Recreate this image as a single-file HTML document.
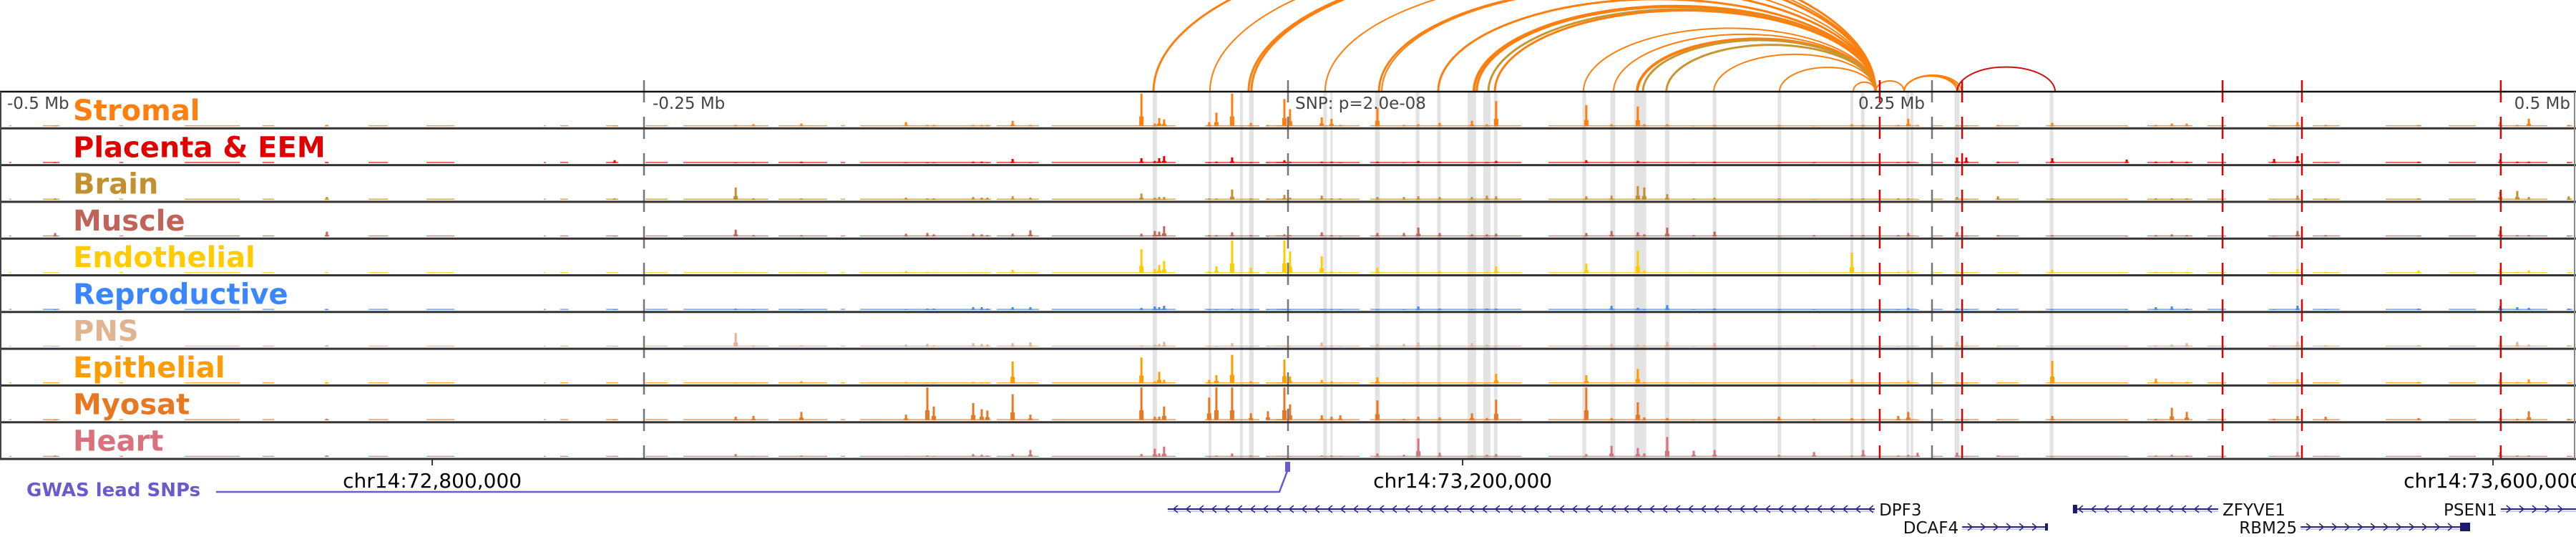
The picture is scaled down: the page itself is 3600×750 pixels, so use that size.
<!DOCTYPE html>
<html><head><meta charset="utf-8">
<style>
html,body{margin:0;padding:0;background:#fff;}
svg{display:block;font-family:"DejaVu Sans","Liberation Sans",sans-serif;}
</style></head>
<body>
<svg id="fig" width="3600" height="750" viewBox="0 0 3600 750" xmlns="http://www.w3.org/2000/svg">
<g id="hl"></g>
<g id="arcs"></g>
<g id="tracks"></g>
<g id="vlines"></g>
<g id="frame"></g>
<g id="labels"></g>
<g id="bottom"></g>
</svg>
<script>
// ---- data (genomic offsets in kb relative to lead SNP) ----
const trackNames = ["Stromal","Placenta & EEM","Brain","Muscle","Endothelial","Reproductive","PNS","Epithelial","Myosat","Heart"];
const trackColors = ["#ff7f0e","#e00000","#c39030","#c0645a","#ffcc00","#3a86ff","#dfb48f","#ff9c00","#e87722","#d8707e"];
const peakPos = [-478.6,-373.1,-261.4,-214.4,-207.5,-188.9,-148.3,-140.0,-137.5,-122.2,-118.9,-116.7,-106.9,-100.0,-56.9,-51.7,-50.0,-48.1,-30.6,-27.8,-21.7,-14.4,-7.8,-1.4,0.8,13.1,16.9,20.3,34.7,45.0,50.6,58.9,71.4,77.2,80.8,115.8,125.6,135.8,138.3,147.2,157.5,165.6,190.6,204.2,218.9,223.3,236.9,240.8,244.4,259.7,263.3,275.6,296.7,325.6,336.9,343.1,348.9,382.8,391.9,402.8,438.9,470.6,477.2,481.7,497.2];
const stromal =  [1,2,1,2,3,4,6,2,2,2,2,2,8,2,48,4,12,10,6,20,48,5,2,40,25,13,11,2,27,2,3,5,8,3,37,31,3,29,3,3,1,2,2,1,3,2,2,11,2,2,1,2,5,1,2,4,4,1,6,2,2,6,2,11,2];
const placenta = [1,1,4,1,1,2,1,1,1,2,2,1,6,1,7,3,7,10,1,2,8,1,1,4,2,2,2,1,2,1,3,2,1,1,3,4,1,3,1,1,1,2,1,1,1,1,1,2,1,8,8,2,7,5,2,3,2,6,10,1,2,5,2,2,1];
const brain =    [2,4,2,18,2,2,3,2,2,4,3,3,5,3,9,3,4,4,2,2,15,2,2,7,3,6,2,2,4,4,5,4,4,6,5,5,6,20,18,8,2,3,2,1,2,2,2,2,1,4,1,5,2,1,2,2,2,1,6,2,2,12,13,4,5];
const muscle =   [5,7,1,10,2,2,4,5,3,4,3,2,4,9,4,8,7,15,2,2,6,2,1,3,2,6,2,1,5,5,13,5,3,3,4,5,8,6,3,13,2,7,1,2,2,2,2,5,1,6,1,2,2,1,2,3,2,1,8,2,1,9,2,2,1];
const endothelial=[0,1,0,2,1,1,3,2,1,1,1,1,5,1,35,6,12,18,3,10,48,8,2,48,32,25,3,2,8,1,2,3,2,2,10,14,1,33,4,2,1,2,1,1,30,2,2,4,1,3,1,1,5,1,2,2,2,1,6,2,4,6,2,4,1];
const reproductive=[1,1,1,2,1,1,1,2,2,4,4,2,4,4,3,5,4,6,1,1,2,1,1,1,1,1,1,1,1,1,5,2,1,2,2,1,6,3,1,7,1,2,1,1,1,1,1,3,1,2,1,2,1,1,4,5,2,1,6,1,2,6,4,3,2];
const pns =      [1,2,1,20,2,2,3,4,2,5,4,3,5,6,2,3,4,7,1,1,5,1,1,1,1,6,2,1,4,4,6,3,5,3,2,2,4,3,2,7,1,5,1,2,1,1,1,1,1,7,1,1,1,1,2,3,5,1,7,2,2,8,7,3,2];
const epithelial=[0,1,0,1,1,3,2,1,1,2,1,1,32,1,38,3,17,5,5,12,42,3,1,35,10,5,3,1,9,1,2,1,2,1,14,12,1,21,2,2,1,1,1,1,6,1,1,4,1,2,1,1,33,1,7,2,2,1,6,1,2,6,2,6,1];
const myosat =   [1,2,1,5,6,12,8,48,20,25,16,14,38,8,48,5,5,20,33,48,48,10,13,48,23,7,5,7,29,2,5,4,10,3,30,48,3,26,4,3,1,2,5,2,3,2,6,12,1,1,1,1,6,1,2,18,12,2,6,5,3,3,2,13,2];
const heart =    [2,2,1,4,1,2,1,2,1,4,3,2,4,10,4,12,5,15,1,2,5,2,1,1,1,2,2,1,5,3,27,6,2,3,4,4,16,13,5,29,9,10,3,7,2,10,2,3,6,6,1,2,1,1,2,3,2,1,7,1,1,7,2,2,1];
const bgStart = [-496.4,-483.3,-453.6,-428.3,-398.1,-373.9,-356.9,-334.4,-288.9,-282.5,-264.7,-249.4,-234.7,-197.8,-173.6,-166.1,-113.1,-91.7,-32.2,-8.6,-4.7,31.9,101.1,250,259.2,275.3,294.2,333.6,356.9,380.6,397.8,426.1,450.6,470.3,496.4];
const bgEnd =   [-495.6,-476.9,-452.2,-406.9,-393.6,-372.5,-349.4,-323.6,-288.1,-279.4,-260,-240.8,-201.7,-178.9,-171.9,-115.3,-96.7,-43.6,-11.1,0,27.8,90.6,243.9,254.2,268.1,283.6,325.8,351.1,364.2,392.8,408.3,440,461.1,488.9,498.6];
const highlightPos = [-51.7,-30.3,-18.1,-14.2,14.4,16.9,34.7,50.3,58.6,71.4,77.2,80.6,115,126.1,136.7,147.2,165.6,190.8,218.9,223.1,240.6,242.2,259.7,296.4,391.9];
const highlightWidth = [1.7,1.1,1.1,1.7,1.4,0.8,1.9,1.4,1.4,3.3,2.8,1.4,1.4,1.9,4.7,1.7,1.4,1.4,1.1,1.4,1.1,1.1,1.9,1.4,1.1];
const arcLeft =  [-52.2,-30.3,-15.3,-14.2,14.4,35.3,36.4,58.3,72.2,73.3,77.8,80.3,114.7,126.4,135.6,137.8,146.9,165.3,190.8,219.4,228.1,239.2,239.2,239.2,259.7];
const arcRight = [228.1,228.1,228.1,228.1,228.1,228.1,228.1,228.1,228.1,228.1,228.1,228.1,228.1,228.1,228.1,228.1,228.1,228.1,228.1,228.1,239.2,259.7,260.5,261.5,297.8];
const arcColor = ["#ff7f0e","#ff7f0e","#ff7f0e","#ff7f0e","#ff7f0e","#ff7f0e","#ff7f0e","#ff7f0e","#ff7f0e","#ff7f0e","#c8962e","#ff7f0e","#ff7f0e","#ff7f0e","#ff7f0e","#c8962e","#c8962e","#ff7f0e","#ff7f0e","#ff7f0e","#ff7f0e","#ff7f0e","#ff7f0e","#ff7f0e","#d01010"];
const arcWidth = [3,2,3,3,2,3,2,3,4,3,3,3,2,2,4,3,3,2,2,2,2,2,2,2,2];
const redLines = [229.7,261.7,362.8,393.6,470.8];
const scaleTicks = [-250,0,250];
const gwasSnp = [0];
const coordTicks = [-332.2,67.8,467.8];
const coordLabels = ["chr14:72,800,000","chr14:73,200,000","chr14:73,600,000"];
const geneNames = ["DPF3","DCAF4","ZFYVE1","RBM25","PSEN1"];
const geneStart = [-46.7,261.7,304.7,393.1,470.8];
const geneEnd =   [227.8,295.0,361.1,458.9,500];
const geneStrand = [-1,1,-1,1,1];
const geneRow = [0,1,0,1,0];
</script>
<script>
const NS="http://www.w3.org/2000/svg";
const X = kb => 1800 + kb*3.6;
const TOP=128, TH=51.3, NT=10;
const trackTop = i => TOP + i*TH;
const base = i => trackTop(i) + TH - 3;
const Y = v => v*0.95;
function mk(tag, attrs, parent){const e=document.createElementNS(NS,tag);for(const k in attrs)e.setAttribute(k,attrs[k]);parent.appendChild(e);return e;}
const hl=document.getElementById('hl'), arcs=document.getElementById('arcs'), tracks=document.getElementById('tracks'),
 vlines=document.getElementById('vlines'), frame=document.getElementById('frame'), labels=document.getElementById('labels'), bottom=document.getElementById('bottom');
const series=[stromal,placenta,brain,muscle,endothelial,reproductive,pns,epithelial,myosat,heart];

highlightPos.forEach((p,i)=>{
  const w=Math.max(3,highlightWidth[i]*3.6);
  const r=mk('rect',{x:X(p)-w/2,y:TOP,width:w,height:NT*TH,fill:'#e3e3e3'},hl);
  
  
});
arcLeft.forEach((l,i)=>{
  const x1=X(l), x2=X(arcRight[i]); const span=x2-x1; const h=0.2*span+7;
  const p=mk('path',{d:`M${x1},${TOP} A${span/2},${h} 0 0 1 ${x2},${TOP}`,fill:'none',stroke:arcColor[i],'stroke-width':arcWidth[i]},arcs);
  
  
});
series.forEach((vals,t)=>{
  const g=mk('g',{},tracks);
  
  
  const c=trackColors[t], b=base(t);
  bgStart.forEach((s,k)=>{
    const r=mk('rect',{x:X(s),y:b-1.4,width:Math.max(1.5,X(bgEnd[k])-X(s)),height:1.4,fill:c,opacity:0.8},g);
    
    
  });
  peakPos.forEach((p,k)=>{
    const v=vals[k]; if(!v) return;
    const h=Y(v), x=X(p);
    const r1=mk('rect',{x:x-3,y:b-h*0.3,width:6,height:h*0.3,fill:c},g);
    
    
    const r2=mk('rect',{x:x-1.5,y:b-h,width:3,height:h,fill:c},g);
    
    
  });
  const tl=mk('text',{x:102,y:trackTop(t)+40,'font-size':40,'font-weight':'bold',fill:c},labels);
  tl.textContent=trackNames[t];
  
  
});
scaleTicks.forEach(k=>{
  const l=mk('line',{x1:X(k),x2:X(k),y1:TOP-16,y2:TOP+NT*TH,stroke:'#777','stroke-width':2.5,'stroke-dasharray':'31 20'},vlines);
  
  
});
redLines.forEach(k=>{
  const l=mk('line',{x1:X(k),x2:X(k),y1:TOP-16,y2:TOP+NT*TH,stroke:'#e00000','stroke-width':2.5,'stroke-dasharray':'31 20'},vlines);
  
  
});
for(let i=0;i<=NT;i++){
  const l=mk('line',{x1:0,x2:3600,y1:trackTop(i),y2:trackTop(i),stroke:i==0?'#111':'#333','stroke-width':i==0?2.5:3},frame);
  
  
}
mk('line',{x1:1,x2:1,y1:TOP,y2:TOP+NT*TH,stroke:'#444','stroke-width':2},frame);
mk('line',{x1:3598,x2:3598,y1:TOP,y2:TOP+NT*TH,stroke:'#888','stroke-width':2},frame);
const sl=[["-0.5 Mb",10,'start'],["-0.25 Mb",X(-250)+12,'start'],["SNP: p=2.0e-08",X(0)+10,'start'],["0.25 Mb",X(250)-10,'end'],["0.5 Mb",3592,'end']];
sl.forEach(s=>{
  const t=mk('text',{x:s[1],y:152,'font-size':23,fill:'#444','text-anchor':s[2]},labels);
  t.textContent=s[0];
  
  
});
coordTicks.forEach((k,i)=>{
  mk('line',{x1:X(k),x2:X(k),y1:TOP+NT*TH,y2:TOP+NT*TH+9,stroke:'#333','stroke-width':2},bottom);
  const t=mk('text',{x:X(k),y:681,'font-size':28,fill:'#000','text-anchor':'middle'},bottom);
  t.textContent=coordLabels[i];
  
  
});
const gl=mk('text',{x:37,y:693,'font-size':26,'font-weight':'bold',fill:'#6a5acd'},bottom);
gl.textContent='GWAS lead SNPs';


gwasSnp.forEach(k=>{
  const sx=X(k);
  const p=mk('polyline',{points:`302,687 ${sx-12},687 ${sx-1},658`,fill:'none',stroke:'#6a5acd','stroke-width':2.5},bottom);
  
  
  const m=mk('rect',{x:sx-4,y:645,width:7,height:14,fill:'#6a5acd'},bottom);
  
  
});
geneNames.forEach((n,i)=>{
  const g=mk('g',{},bottom);
  
  
  const y=geneRow[i]?736:711, x1=X(geneStart[i]), x2=X(geneEnd[i]);
  mk('line',{x1:x1,x2:x2,y1:y,y2:y,stroke:'#25257a','stroke-width':2},g);
  mk('line',{x1:x1,x2:x2,y1:y+3,y2:y+3,stroke:'#9a9ad0','stroke-width':1},g);
  for(let x=x1+10;x<x2-6;x+=18){
    const d=geneStrand[i]<0?`M${x+4},${y-5} L${x-2},${y} L${x+4},${y+5}`:`M${x-2},${y-5} L${x+4},${y} L${x-2},${y+5}`;
    mk('path',{d:d,fill:'none',stroke:'#25257a','stroke-width':1.5},g);
  }
  const endBox = geneStrand[i]<0 ? x1 : x2-14;
  if(n==='ZFYVE1'||n==='RBM25') mk('rect',{x:endBox,y:y-6,width:n==='RBM25'?14:6,height:12,fill:'#1a1a6e'},g);
  if(n==='DCAF4') mk('rect',{x:x2-4,y:y-5,width:4,height:10,fill:'#1a1a6e'},g);
  const right = geneStrand[i]<0;
  const t=mk('text',{x:right?x2+6:x1-5,y:y+9,'font-size':23,fill:'#111','text-anchor':right?'start':'end'},g);
  t.textContent=n;
});
</script>
</body></html>
